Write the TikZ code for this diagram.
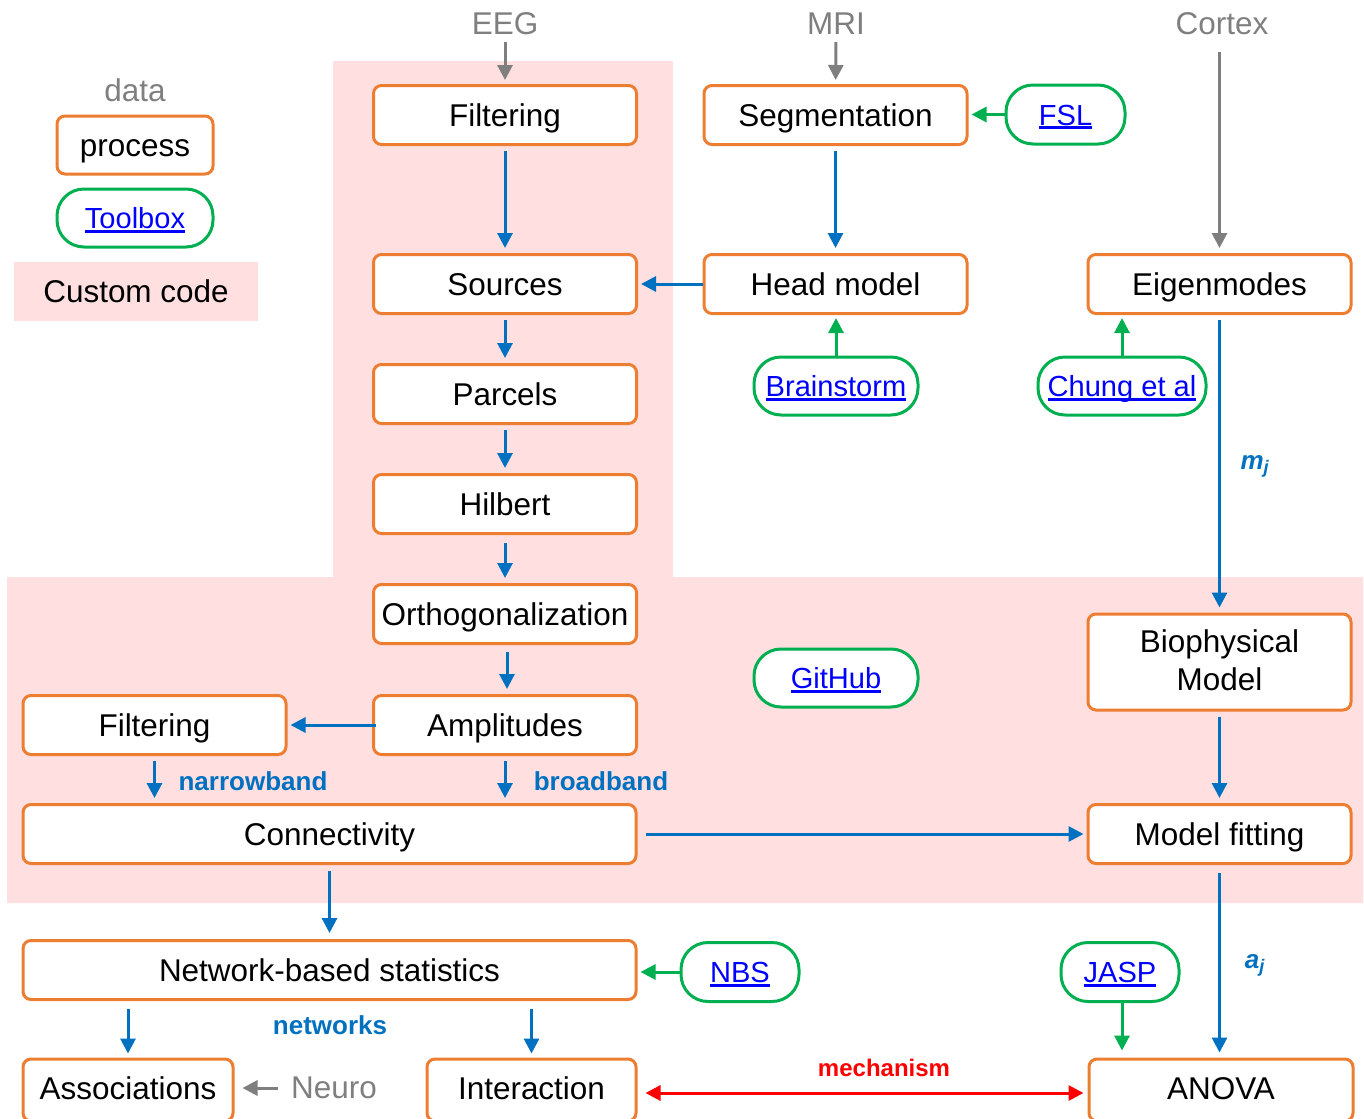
\documentclass[tikz,border=0pt]{standalone}
\usepackage{fontspec}
\setmainfont{Liberation Sans}
\usetikzlibrary{arrows.meta}
\newlength\pxu \setlength\pxu{0.75pt}
\definecolor{borange}{HTML}{ED7D31}
\definecolor{bgreen}{HTML}{00B050}
\definecolor{bblue}{HTML}{0070C0}
\definecolor{bgray}{HTML}{7F7F7F}
\definecolor{bpink}{HTML}{FFDFDF}
\definecolor{lnkblue}{HTML}{0000FF}
\definecolor{bred}{HTML}{FF0000}
\newcommand\fs{\fontsize{23.6}{28.5}\selectfont}
\newcommand\lfs{\fontsize{21.8}{26}\selectfont}
\newcommand\lnk[1]{\sbox0{#1}\makebox[0pt][l]{\raisebox{-4\pxu}{\rule{\wd0}{3\pxu}}}\usebox0}
\tikzset{
  procbase/.style={draw=borange, line width=3\pxu, rounded corners=8\pxu, fill=white,
    minimum width=263\pxu, minimum height=59\pxu, font=\fs, inner sep=0pt, align=center},
  proc/.style={procbase, text height=17pt, text depth=0pt},
  tool/.style={draw=bgreen, line width=3\pxu, rounded corners=27\pxu, fill=white,
    minimum height=59\pxu, font=\lfs, text=lnkblue, inner sep=0pt, text height=16pt, text depth=0pt},
  gtext/.style={font=\fs, text=bgray, inner sep=0pt},
  lbl/.style={font=\fontsize{19.5}{23}\selectfont\bfseries, text=bblue, inner sep=0pt},
  tipA/.style={-{Triangle[length=11.25pt,width=11.25pt]}},
  barr/.style={draw=bblue, line width=3\pxu, tipA, shorten <=5\pxu, shorten >=5\pxu},
  garr/.style={draw=bgray, line width=3\pxu, tipA, shorten <=5\pxu, shorten >=5\pxu},
  grarr/.style={draw=bgreen, line width=3\pxu, tipA, shorten <=0\pxu, shorten >=3\pxu},
}
\begin{document}
\begin{tikzpicture}[x=0.75pt,y=-0.75pt]
\useasboundingbox (0,0) rectangle (1364,1118);
% custom code background
\fill[bpink] (333,61) -- (673,61) -- (673,577) -- (1363,577) -- (1363,903) -- (7,903) -- (7,577) -- (333,577) -- cycle;

% legend
\node[gtext] (data) at (135,90) {data};
\node[proc, minimum width=156\pxu, minimum height=58\pxu] (lproc) at (135,145) {process};
\node[tool, minimum width=156\pxu, minimum height=58\pxu] (ltool) at (135,218) {\lnk{Toolbox}};
\node[fill=bpink, minimum width=244\pxu, minimum height=59\pxu, font=\fs, inner sep=0pt, text height=17pt, text depth=0pt] (lcustom) at (136,291.5) {Custom code};

% data inputs
\node[gtext] (eeg) at (505,24) {EEG};
\node[gtext] (mri) at (836,24) {MRI};
\node[gtext] (cortex) at (1222,24) {Cortex};
\node[gtext] (neuro) at (334,1088) {Neuro};

% process boxes
\node[proc] (f1) at (505,115) {Filtering};
\node[proc] (seg) at (835.5,115) {Segmentation};
\node[proc] (src) at (505,284) {Sources};
\node[proc] (head) at (835.5,284) {Head model};
\node[proc] (eig) at (1219.5,284) {Eigenmodes};
\node[proc] (parc) at (505,394) {Parcels};
\node[proc] (hil) at (505,504) {Hilbert};
\node[proc] (orth) at (505,614) {Orthogonalization};
\node[procbase, minimum height=96\pxu, text depth=2.5pt] (bio) at (1219.5,662) {Biophysical\\Model};
\node[proc] (f2) at (154.5,725) {Filtering};
\node[proc] (amp) at (505,725) {Amplitudes};
\node[proc, minimum width=613\pxu] (conn) at (329.5,834) {Connectivity};
\node[proc] (mf) at (1219.5,834) {Model fitting};
\node[proc, minimum width=613\pxu] (stats) at (329.5,970) {Network-based statistics};
\node[proc, minimum width=210\pxu, minimum height=62\pxu, text depth=3pt] (assoc) at (128,1090) {Associations};
\node[proc, minimum width=209\pxu, minimum height=62\pxu, text depth=3pt] (inter) at (531.5,1090) {Interaction};
\node[proc, minimum width=264\pxu, minimum height=62\pxu, text depth=3pt] (anova) at (1221,1090) {ANOVA};

% toolboxes
\node[tool, minimum width=119\pxu] (fsl) at (1065.5,114.5) {\lnk{FSL}};
\node[tool, minimum width=164\pxu, minimum height=58\pxu] (brain) at (836,386) {\lnk{Brainstorm}};
\node[tool, minimum width=168\pxu, minimum height=58\pxu] (chung) at (1122,386) {\lnk{Chung et al}};
\node[tool, minimum width=164\pxu, minimum height=58\pxu] (git) at (836,678) {\lnk{GitHub}};
\node[tool, minimum width=118\pxu] (nbs) at (740,972) {\lnk{NBS}};
\node[tool, minimum width=118\pxu] (jasp) at (1120,972) {\lnk{JASP}};

% labels
\node[lbl, font=\fontsize{19.5}{23}\selectfont\bfseries\itshape] (mj) at (1255,466) {m\textsubscript{j}};
\node[lbl, font=\fontsize{19.5}{23}\selectfont\bfseries\itshape] (aj) at (1255,965) {a\textsubscript{j}};
\node[lbl] (nb) at (253,781) {narrowband};
\node[lbl] (bb) at (601,781) {broadband};
\node[lbl] (nw) at (330,1025) {networks};
\node[lbl, text=bred, font=\fontsize{18}{22}\selectfont\bfseries] (mech) at (884,1068) {mechanism};

% gray data arrows
\draw[garr, shorten <=7\pxu, shorten >=4\pxu] (eeg) -- (f1);
\draw[garr, shorten <=7\pxu, shorten >=4\pxu] (mri) -- (seg);
\draw[garr, shorten <=17\pxu] (cortex.south -| eig.north) -- (eig.north);
\draw[garr, shorten <=13\pxu, shorten >=8\pxu] (neuro.west) -- (neuro.west -| assoc.east);

% blue flow arrows
\draw[barr] (f1) -- (src);
\draw[barr] (seg) -- (head);
\draw[barr, shorten <=0\pxu, shorten >=3\pxu] (head.west) -- (src.east);
\draw[barr] (src) -- (parc);
\draw[barr] (parc) -- (hil);
\draw[barr, shorten <=8\pxu] (hil) -- (orth);
\draw[barr, shorten <=7\pxu] ([xshift=2\pxu]orth.south) -- ([xshift=2\pxu]amp.north);
\draw[barr, shorten <=-4\pxu, shorten >=3\pxu] (amp.west) -- (f2.east);
\draw[barr] (f2.south) -- (f2.south |- conn.north);
\draw[barr] (amp.south) -- (amp.south |- conn.north);
\draw[barr] (eig) -- (bio);
\draw[barr] (bio) -- (mf);
\draw[barr, shorten <=8\pxu, shorten >=3\pxu] (conn.east) -- (mf.west);
\draw[barr, shorten <=6\pxu, shorten >=6\pxu] (conn) -- (stats);
\draw[barr, shorten <=8\pxu, shorten >=4\pxu] (stats.south -| assoc.north) -- (assoc.north);
\draw[barr, shorten <=8\pxu, shorten >=4\pxu] (stats.south -| inter.north) -- (inter.north);
\draw[barr, shorten <=8\pxu, shorten >=5\pxu] (mf.south) -- (mf.south |- anova.north);

% green toolbox arrows
\draw[grarr] (fsl.west) -- (fsl.west -| seg.east);
\draw[grarr] (brain.north) -- (brain.north |- head.south);
\draw[grarr] (chung.north) -- (chung.north |- eig.south);
\draw[grarr] (nbs.west) -- (nbs.west -| stats.east);
\draw[grarr, shorten >=7\pxu] ([xshift=2\pxu]jasp.south) -- ([xshift=2\pxu]jasp.south |- anova.north);

% red mechanism arrow
\draw[draw=bred, line width=3\pxu, {Triangle[length=11.25pt,width=11.25pt]}-{Triangle[length=11.25pt,width=11.25pt]}, shorten <=8\pxu, shorten >=4\pxu]
  ([yshift=-3\pxu]inter.east) -- ([yshift=-3\pxu]anova.west);
\end{tikzpicture}
\end{document}
